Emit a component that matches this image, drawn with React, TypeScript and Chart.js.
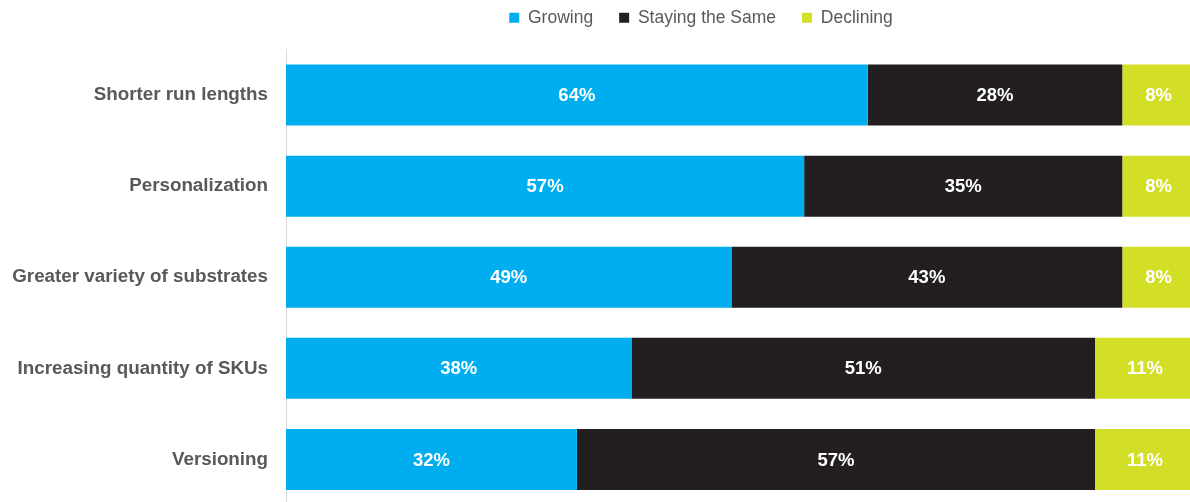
import React, { useEffect, useRef } from "react";
import { Chart, registerables } from "chart.js";

Chart.register(...registerables);

const categories = [
  "Shorter run lengths",
  "Personalization",
  "Greater variety of substrates",
  "Increasing quantity of SKUs",
  "Versioning",
];
const growing = [64, 57, 49, 38, 32];
const stayingSame = [28, 35, 43, 51, 57];
const declining = [8, 8, 8, 11, 11];
const seriesNames = ["Growing", "Staying the Same", "Declining"];
const seriesColors = ["#00AEEF", "#231F20", "#D3DE27"];

const FONT = "'Liberation Sans', Arial, Helvetica, sans-serif";
const TEXT_GRAY = "#595959";

const valueLabels = {
  id: "valueLabels",
  afterDatasetsDraw(chart: any) {
    const ctx = chart.ctx;
    ctx.save();
    ctx.font = `bold 18.5px ${FONT}`;
    ctx.fillStyle = "#ffffff";
    ctx.textAlign = "center";
    ctx.textBaseline = "middle";
    chart.data.datasets.forEach((ds: any, i: number) => {
      const meta = chart.getDatasetMeta(i);
      meta.data.forEach((bar: any, j: number) => {
        const { x, base, y } = bar.getProps(["x", "base", "y"], true);
        ctx.fillText(ds.data[j] + "%", (x + base) / 2, y + 1);
      });
    });
    ctx.restore();
  },
};

const legendPlace = {
  id: "legendPlace",
  beforeLayout(chart: any) {
    const lg = chart.legend;
    if (lg && !lg._heightPatched) {
      const origFit = lg.fit;
      lg.fit = function () {
        origFit.call(this);
        this.height = 49.5;
      };
      lg._heightPatched = true;
    }
  },
  afterLayout(chart: any) {
    const lg = chart.legend;
    if (lg) {
      lg.left += 106;
      lg.right += 106;
      lg.top -= 17;
      lg.bottom -= 17;
    }
  },
};

export default function App() {
  const canvasRef = useRef<HTMLCanvasElement | null>(null);

  useEffect(() => {
    document.body.style.margin = "0";
    document.body.style.overflow = "hidden";
    const canvas = canvasRef.current;
    if (!canvas) return;
    const data = [growing, stayingSame, declining];
    const chart = new Chart(canvas, {
      type: "bar",
      data: {
        labels: categories,
        datasets: seriesNames.map((name, i) => ({
          label: name,
          data: data[i],
          backgroundColor: seriesColors[i],
          borderWidth: 0,
          barPercentage: 0.67,
          categoryPercentage: 1,
        })),
      },
      options: {
        indexAxis: "y",
        responsive: false,
        animation: false,
        events: [],
        layout: { padding: 0, autoPadding: false },
        scales: {
          x: {
            stacked: true,
            min: 0,
            max: 99.45,
            display: false,
          },
          y: {
            stacked: true,
            grid: { display: false, drawTicks: false },
            border: { display: true, color: "#D9D9D9", width: 1 },
            ticks: {
              padding: 18,
              color: TEXT_GRAY,
              font: { family: FONT, size: 18.8, weight: "bold" },
            },
            afterFit(scale: any) {
              scale.width = 286;
              scale.paddingTop = 0;
              scale.paddingBottom = 0;
            },
          },
        },
        plugins: {
          tooltip: { enabled: false },
          legend: {
            display: true,
            position: "top",
            align: "center",
            labels: {
              boxWidth: 10,
              boxHeight: 10,
              padding: 26,
              color: TEXT_GRAY,
              font: { family: FONT, size: 17.5 },
            },
          },
        },
      },
      plugins: [valueLabels, legendPlace],
    } as any);
    return () => chart.destroy();
  }, []);

  return (
    <div style={{ width: 1190, height: 505, position: "relative" }}>
      <canvas ref={canvasRef} width={1190} height={505} style={{ display: "block" }} />
    </div>
  );
}
